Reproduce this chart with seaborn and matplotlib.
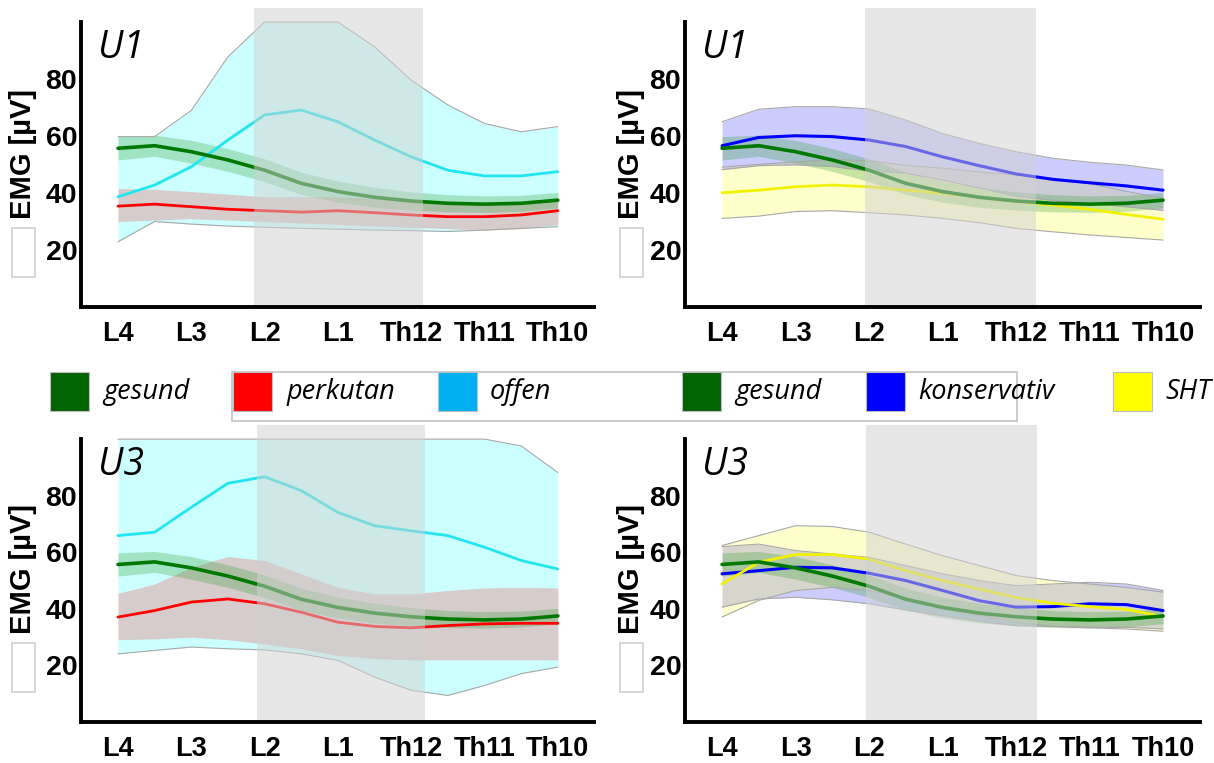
import numpy as np
import pandas as pd
import matplotlib
matplotlib.use("Agg")
import matplotlib.pyplot as plt
from matplotlib.patches import Rectangle
import seaborn as sns

# ---------------- data ----------------
levels = ["L4", "L3", "L2", "L1", "Th12", "Th11", "Th10"]
x_pos = [0, 0.5, 1, 1.5, 2, 2.5, 3, 3.5, 4, 4.5, 5, 5.5, 6]
y_ticks = [20, 40, 60, 80]

gesund_mean = [55.7, 56.6, 54.5, 51.6, 48.0, 43.4, 40.5, 38.5, 37.2, 36.4, 36.1, 36.4, 37.5]
gesund_hi = [59.8, 60.3, 58.5, 55.6, 52.0, 47.3, 44.2, 42.0, 40.4, 39.4, 39.0, 39.2, 40.2]
gesund_lo = [51.6, 52.9, 50.5, 47.6, 44.0, 39.5, 36.8, 35.0, 34.0, 33.4, 33.2, 33.6, 34.8]

perk1_mean = [35.4, 36.1, 35.2, 34.3, 33.8, 33.3, 33.8, 33.1, 32.3, 31.7, 31.7, 32.3, 33.8]
perk1_hi = [41.6, 41.3, 40.5, 39.6, 38.7, 38.7, 38.7, 38.2, 37.5, 36.5, 35.8, 36.5, 37.5]
perk1_lo = [30.0, 30.5, 31.0, 30.5, 30.0, 29.5, 29.0, 28.5, 28.0, 27.5, 27.0, 27.5, 29.0]

off1_mean = [38.7, 42.8, 49.2, 58.6, 67.4, 69.1, 65.0, 58.6, 52.7, 48.0, 46.0, 46.0, 47.5]
off1_hi = [59.8, 59.8, 69.0, 87.8, 100, 100, 100, 91.3, 79.6, 70.9, 64.4, 61.5, 63.3]
off1_lo = [22.9, 30.0, 29.1, 28.4, 28.0, 27.6, 27.3, 27.0, 26.8, 26.5, 27.0, 27.6, 28.2]

kons1_mean = [56.6, 59.5, 60.1, 59.8, 58.6, 56.3, 52.7, 49.6, 46.7, 44.8, 43.6, 42.5, 41.0]
kons1_hi = [65.0, 69.4, 70.3, 70.3, 69.5, 65.6, 60.9, 57.4, 54.5, 52.2, 50.8, 49.8, 48.1]
kons1_lo = [48.2, 49.6, 49.9, 49.3, 47.7, 47.0, 44.5, 41.8, 38.9, 37.4, 36.4, 35.2, 33.9]

sht1_mean = [40.1, 41.0, 42.2, 42.8, 42.2, 41.0, 39.9, 38.5, 37.0, 35.8, 34.3, 32.5, 30.8]
sht1_hi = [49.1, 50.1, 50.9, 51.8, 51.3, 49.7, 48.7, 47.4, 46.4, 45.2, 43.3, 40.6, 38.1]
sht1_lo = [31.1, 31.9, 33.5, 33.8, 33.1, 32.3, 31.1, 29.6, 27.6, 26.4, 25.3, 24.4, 23.5]

perk3_mean = [37.1, 39.4, 42.4, 43.5, 41.8, 38.8, 35.3, 33.8, 33.3, 34.1, 34.7, 34.9, 34.9]
perk3_hi = [45.5, 48.8, 54.7, 58.5, 57.1, 52.4, 47.6, 45.3, 45.3, 46.5, 47.4, 47.6, 47.4]
perk3_lo = [29.1, 29.4, 30.0, 29.1, 27.6, 25.9, 23.5, 22.4, 22.0, 22.0, 22.0, 22.0, 22.0]

off3_mean = [65.9, 67.1, 75.9, 84.4, 86.7, 81.8, 74.1, 69.4, 67.6, 65.9, 61.8, 57.1, 54.1]
off3_hi = [100, 100, 100, 100, 100, 100, 100, 100, 100, 100, 100, 97.6, 88.2]
off3_lo = [24.1, 25.3, 26.5, 25.9, 25.5, 24.1, 21.8, 15.9, 11.2, 9.4, 12.9, 17.1, 19.4]

kons3_mean = [52.4, 53.5, 54.7, 54.5, 52.6, 50.0, 46.5, 42.9, 40.6, 40.8, 41.8, 41.5, 39.4]
kons3_hi = [62.0, 62.9, 60.6, 59.4, 58.2, 55.3, 52.4, 50.0, 48.2, 48.8, 49.4, 48.8, 46.5]
kons3_lo = [40.6, 43.5, 44.1, 43.2, 41.8, 39.6, 37.6, 35.6, 34.1, 33.8, 33.5, 33.5, 32.9]

sht3_mean = [48.8, 56.5, 59.2, 59.2, 57.6, 53.5, 50.0, 47.0, 44.0, 42.0, 40.8, 39.8, 37.3]
sht3_hi = [62.4, 65.9, 69.4, 69.1, 67.1, 62.9, 58.8, 55.3, 51.8, 50.0, 48.8, 47.6, 45.9]
sht3_lo = [37.1, 43.0, 46.5, 47.6, 46.5, 43.5, 40.0, 37.6, 35.3, 33.8, 33.3, 32.9, 32.1]

left_legend = ["gesund", "perkutan", "offen"]
right_legend = ["gesund", "konservativ", "SHT"]
panel_titles = ["U1", "U1", "U3", "U3"]
y_label = "EMG [µV]"

# ---------------- style ----------------
sns.set_style("white")
plt.rcParams["font.family"] = ["Liberation Sans", "DejaVu Sans"]
plt.rcParams["text.color"] = "black"
plt.rcParams["xtick.color"] = "black"
plt.rcParams["ytick.color"] = "black"
plt.rcParams["axes.labelcolor"] = "black"

COL = {
    "gesund": dict(line="#007800", fill="#2e9e2e", edge=None, patch="#006400", lw=2.6, alpha=0.28),
    "perkutan": dict(line="#ff0000", fill="#ff0000", edge=None, patch="#ff0000", lw=2.0, alpha=0.2),
    "offen": dict(line="#22e6ef", fill="#00ffff", edge="#a8a8a8", patch="#00b0f0", lw=2.0, alpha=0.2),
    "konservativ": dict(line="#0000ff", fill="#0000ff", edge="#a8a8a8", patch="#0000ff", lw=2.2, alpha=0.2),
    "SHT": dict(line="#f2f200", fill="#ffff00", edge="#a8a8a8", patch="#ffff00", lw=2.0, alpha=0.2),
}

panels = [
    dict(rect=[0.0670, 0.5976, 0.4227, 0.3922], span=(1.86, 4.16), title=panel_titles[0],
         series=[("offen", off1_mean, off1_lo, off1_hi), ("perkutan", perk1_mean, perk1_lo, perk1_hi),
                 ("gesund", gesund_mean, gesund_lo, gesund_hi)]),
    dict(rect=[0.5645, 0.5976, 0.4238, 0.3922], span=(1.95, 4.27), title=panel_titles[1],
         series=[("SHT", sht1_mean, sht1_lo, sht1_hi), ("konservativ", kons1_mean, kons1_lo, kons1_hi),
                 ("gesund", gesund_mean, gesund_lo, gesund_hi)]),
    dict(rect=[0.0670, 0.0537, 0.4227, 0.3893], span=(1.90, 4.19), title=panel_titles[2],
         series=[("offen", off3_mean, off3_lo, off3_hi), ("perkutan", perk3_mean, perk3_lo, perk3_hi),
                 ("gesund", gesund_mean, gesund_lo, gesund_hi)]),
    dict(rect=[0.5645, 0.0537, 0.4238, 0.3893], span=(1.96, 4.29), title=panel_titles[3],
         series=[("konservativ", kons3_mean, kons3_lo, kons3_hi), ("SHT", sht3_mean, sht3_lo, sht3_hi),
                 ("gesund", gesund_mean, gesund_lo, gesund_hi)]),
]

fig = plt.figure(figsize=(12.14, 7.63), dpi=100)
xfont = dict(family=["Liberation Sans", "DejaVu Sans"], weight="bold", size=19.5, color="black")
yfont = dict(family=["Liberation Sans", "DejaVu Sans"], weight="bold", size=20.5, color="black")
W, H = 1214, 763

for i, p in enumerate(panels):
    ax = fig.add_axes(p["rect"])
    for name, m, lo, hi in p["series"]:
        c = COL[name]
        ax.fill_between(x_pos, lo, hi, color=c["fill"], alpha=c["alpha"], lw=0, zorder=1)
        if c["edge"]:
            ax.plot(x_pos, lo, color=c["edge"], lw=0.8, zorder=1.1)
            ax.plot(x_pos, hi, color=c["edge"], lw=0.8, zorder=1.1)
    for name, m, lo, hi in p["series"]:
        c = COL[name]
        sns.lineplot(x=x_pos, y=m, ax=ax, color=c["line"], lw=c["lw"], legend=False, zorder=2)
    ax.axvspan(p["span"][0], p["span"][1], color="#d1d1d1", alpha=0.5, lw=0, zorder=3)
    ax.set_xlim(-0.5, 6.5)
    ax.set_ylim(0, 105)
    ax.set_xticks(range(len(levels)))
    ax.set_xticklabels(levels, fontdict=xfont)
    ax.set_yticks(y_ticks)
    ax.set_yticklabels([str(v) for v in y_ticks], fontdict=yfont)
    ax.set_xlabel("")
    ax.set_ylabel("")
    for s in ["top", "right"]:
        ax.spines[s].set_visible(False)
    for s in ["left", "bottom"]:
        ax.spines[s].set_linewidth(2.8)
        ax.spines[s].set_color("black")
        ax.spines[s].set_zorder(5)
    ax.spines["left"].set_bounds(0, 100)
    ax.tick_params(axis="both", direction="in", length=4, width=2.5, color="black")
    ax.tick_params(axis="x", pad=10)
    ax.tick_params(axis="y", pad=3)
    ax.set_facecolor("none")
    ax.text(-0.27, 91, p["title"], fontsize=27, style="italic", family=["Open Sans", "DejaVu Sans"],
            color="black", ha="left", va="center", zorder=6)
    # y label and small white box
    bb = p["rect"]
    lab_x = (23 if i % 2 == 0 else 631) / W
    axis_bottom_px = (1 - bb[1]) * H
    lab_y = 1 - (axis_bottom_px - 153) / H
    fig.text(lab_x, lab_y, y_label, rotation=90, ha="center", va="center", color="black",
             fontsize=21, fontweight="bold", family=["Liberation Sans", "DejaVu Sans"])
    bx = (12 if i % 2 == 0 else 620) / W
    by = 1 - (axis_bottom_px - 30) / H
    fig.add_artist(Rectangle((bx, by), 23 / W, 49 / H, transform=fig.transFigure,
                             facecolor="white", edgecolor="#cfcfcf", lw=1.2))

# ---------------- legend row ----------------
fig.add_artist(Rectangle((232 / W, 1 - 421 / H), (1017 - 232) / W, 49 / H, transform=fig.transFigure,
                         facecolor="none", edgecolor="#c4c4c4", lw=1.2))
legend_items = [
    (left_legend[0], COL["gesund"]["patch"], 50, 103),
    (left_legend[1], COL["perkutan"]["patch"], 233, 287),
    (left_legend[2], COL["offen"]["patch"], 438, 490),
    (right_legend[0], COL["gesund"]["patch"], 682, 735),
    (right_legend[1], COL["konservativ"]["patch"], 866, 918),
    (right_legend[2], COL["SHT"]["patch"], 1113, 1165),
]
for text, col, px, tx in legend_items:
    fig.add_artist(Rectangle((px / W, 1 - 411 / H), 39 / W, 39 / H, transform=fig.transFigure,
                             facecolor=col, edgecolor="#bdbdbd", lw=0.8))
    fig.text(tx / W, 1 - 392 / H, text, fontsize=19.5, style="italic", family=["Open Sans", "DejaVu Sans"],
             color="black", ha="left", va="center")

fig.savefig("out.png", dpi=100)
